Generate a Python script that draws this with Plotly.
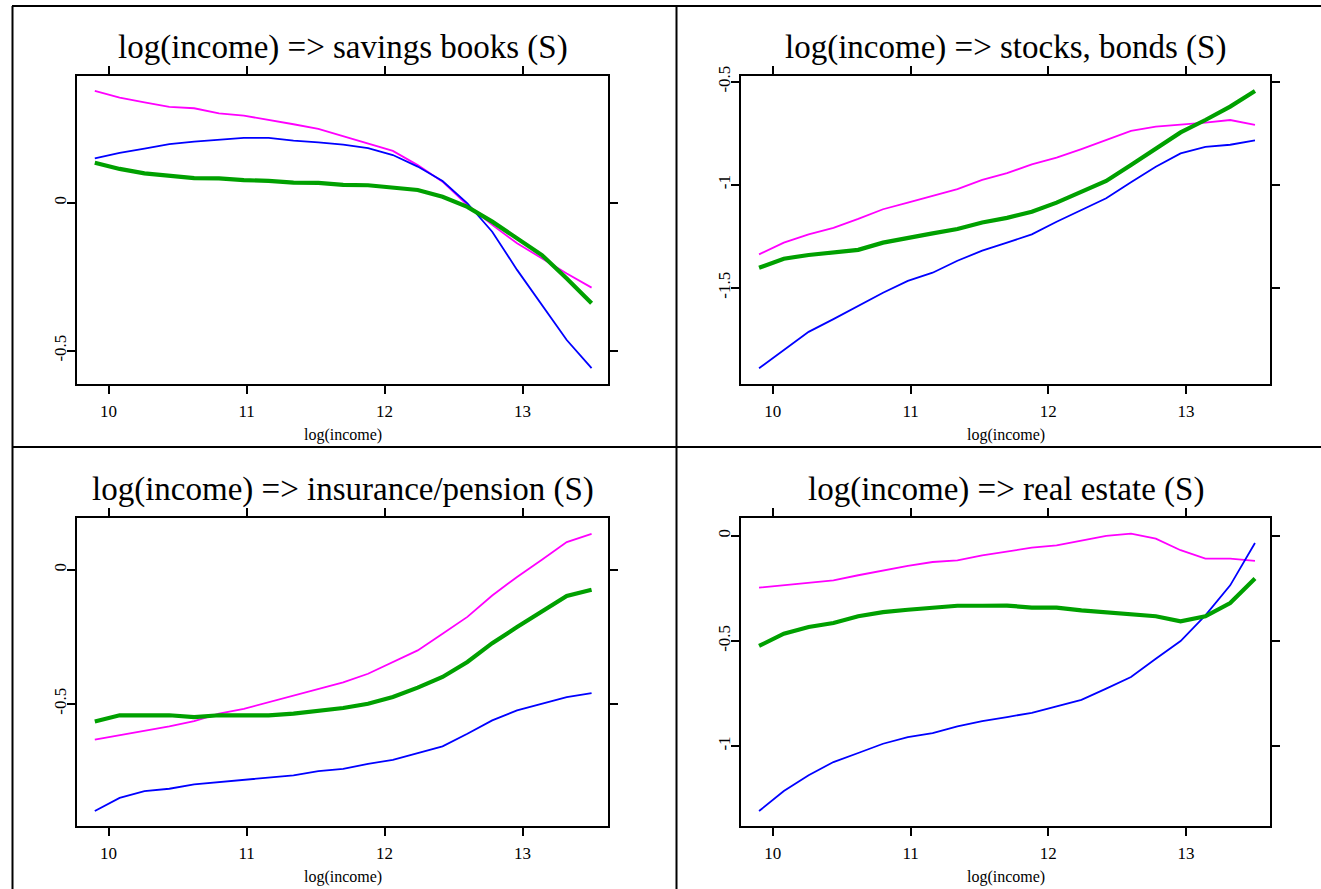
import plotly.graph_objects as go

W, H = 1321, 889

# x grid: log(income)
log_income = [9.90, 10.08, 10.26, 10.44, 10.62, 10.80, 10.98, 11.16, 11.34, 11.52, 11.70,
              11.88, 12.06, 12.24, 12.42, 12.60, 12.78, 12.96, 13.14, 13.32, 13.50]

titles = ["log(income) => savings books (S)", "log(income) => stocks, bonds (S)",
          "log(income) => insurance/pension (S)", "log(income) => real estate (S)"]

# savings books
sav_magenta = [0.378, 0.355, 0.339, 0.324, 0.319, 0.302, 0.294, 0.280, 0.265, 0.249, 0.225,
               0.201, 0.175, 0.127, 0.071, -0.008, -0.075, -0.137, -0.188, -0.239, -0.287]
sav_blue = [0.150, 0.168, 0.183, 0.198, 0.206, 0.212, 0.219, 0.219, 0.210, 0.204, 0.196,
            0.184, 0.161, 0.122, 0.073, -0.002, -0.098, -0.227, -0.346, -0.464, -0.559]
sav_green = [0.135, 0.114, 0.099, 0.091, 0.083, 0.082, 0.076, 0.074, 0.068, 0.067, 0.060,
             0.059, 0.052, 0.043, 0.020, -0.014, -0.064, -0.120, -0.177, -0.256, -0.340]

# stocks, bonds
stk_magenta = [-1.338, -1.281, -1.241, -1.209, -1.166, -1.119, -1.087, -1.055, -1.021, -0.977, -0.944,
               -0.901, -0.869, -0.827, -0.783, -0.739, -0.718, -0.709, -0.699, -0.686, -0.710]
stk_blue = [-1.891, -1.802, -1.714, -1.652, -1.589, -1.524, -1.467, -1.427, -1.369, -1.320, -1.281,
            -1.241, -1.180, -1.123, -1.066, -0.988, -0.913, -0.848, -0.816, -0.806, -0.785]
stk_green = [-1.403, -1.359, -1.341, -1.330, -1.316, -1.281, -1.257, -1.236, -1.215, -1.183, -1.161,
             -1.131, -1.087, -1.034, -0.982, -0.904, -0.823, -0.746, -0.686, -0.621, -0.545]

# insurance/pension
ins_magenta = [-0.634, -0.618, -0.602, -0.584, -0.565, -0.537, -0.519, -0.494, -0.469, -0.444, -0.420,
               -0.388, -0.344, -0.301, -0.239, -0.176, -0.096, -0.027, 0.037, 0.103, 0.134]
ins_blue = [-0.900, -0.851, -0.826, -0.817, -0.801, -0.792, -0.785, -0.776, -0.767, -0.751, -0.743,
            -0.724, -0.709, -0.684, -0.659, -0.612, -0.562, -0.525, -0.500, -0.475, -0.460]
ins_green = [-0.566, -0.543, -0.543, -0.543, -0.550, -0.543, -0.543, -0.543, -0.537, -0.528, -0.516,
             -0.500, -0.475, -0.440, -0.400, -0.344, -0.274, -0.214, -0.155, -0.098, -0.075]

# real estate
re_magenta = [-0.247, -0.236, -0.225, -0.212, -0.188, -0.165, -0.143, -0.125, -0.117, -0.093, -0.075,
              -0.057, -0.046, -0.022, -0.001, 0.010, -0.014, -0.069, -0.109, -0.109, -0.120]
re_blue = [-1.309, -1.214, -1.139, -1.076, -1.033, -0.989, -0.957, -0.938, -0.906, -0.881, -0.862,
           -0.842, -0.811, -0.780, -0.727, -0.672, -0.585, -0.501, -0.379, -0.236, -0.035]
re_green = [-0.524, -0.466, -0.434, -0.415, -0.383, -0.363, -0.352, -0.342, -0.333, -0.333, -0.332,
            -0.342, -0.342, -0.355, -0.363, -0.374, -0.383, -0.407, -0.383, -0.320, -0.204]

panels = [(sav_magenta, sav_blue, sav_green),
          (stk_magenta, stk_blue, stk_green),
          (ins_magenta, ins_blue, ins_green),
          (re_magenta, re_blue, re_green)]

x_ticks = [10, 11, 12, 13]
y_ticks = [[-0.5, 0], [-1.5, -1, -0.5], [-0.5, 0], [-1, -0.5, 0]]
y_ticklabels = [["-0.5", "0"], ["-1.5", "-1", "-0.5"], ["-0.5", "0"], ["-1", "-0.5", "0"]]
x_ranges = [[9.771, 13.619], [9.769, 13.609], [9.771, 13.619], [9.769, 13.609]]
y_ranges = [[-0.6125, 0.429], [-1.967, -0.471], [-0.956, 0.194], [-1.380, 0.0856]]

# plot-area boxes in pixels (left, right, top, bottom)
boxes = [(77, 608, 75.7, 384), (741, 1270, 75.7, 384),
         (77, 608, 517.7, 826), (741, 1270, 517.7, 826)]

FONT = "Liberation Serif"
fig = go.Figure()

for k, (mag, blu, grn) in enumerate(panels):
    n = "" if k == 0 else str(k + 1)
    xa, ya = "x" + n, "y" + n
    fig.add_trace(go.Scatter(x=log_income, y=mag, mode="lines", xaxis=xa, yaxis=ya,
                             line=dict(color="#FF00FF", width=1.8), showlegend=False))
    fig.add_trace(go.Scatter(x=log_income, y=blu, mode="lines", xaxis=xa, yaxis=ya,
                             line=dict(color="#0000FF", width=1.8), showlegend=False))
    fig.add_trace(go.Scatter(x=log_income, y=grn, mode="lines", xaxis=xa, yaxis=ya,
                             line=dict(color="#00A000", width=4.2), showlegend=False))
    l, r, t, b = boxes[k]
    common = dict(showgrid=False, zeroline=False, showline=True, mirror="ticks",
                  linecolor="black", linewidth=2, ticks="outside", ticklen=8,
                  tickwidth=1.5, tickcolor="black", automargin=False,
                  tickfont=dict(family=FONT, size=17, color="black"))
    fig.layout["xaxis" + n] = dict(domain=[l / W, r / W], range=x_ranges[k],
                                   anchor=ya, tickvals=x_ticks, ticklabelstandoff=3,
                                   ticktext=[str(v) for v in x_ticks], **common)
    fig.layout["yaxis" + n] = dict(domain=[1 - b / H, 1 - t / H], range=y_ranges[k],
                                   anchor=xa, tickvals=y_ticks[k], ticklabelstandoff=-6,
                                   ticktext=y_ticklabels[k], tickangle=-90, **common)
    cx = (l + r) / 2
    fig.add_annotation(x=cx / W, y=1 - (t - 28) / H, xref="paper", yref="paper",
                       text=titles[k], showarrow=False, xanchor="center", yanchor="middle",
                       font=dict(family=FONT, size=33, color="black"))
    fig.add_annotation(x=cx / W, y=1 - (b + 51) / H, xref="paper", yref="paper",
                       text="log(income)", showarrow=False, xanchor="center", yanchor="middle",
                       font=dict(family=FONT, size=16, color="black"))

# cell frame lines
frame = [(12, 6, W, 6), (12.5, 6, 12.5, H), (676.5, 6, 676.5, H), (12, 447, W, 447)]
for x0, y0, x1, y1 in frame:
    fig.add_shape(type="line", xref="paper", yref="paper",
                  x0=x0 / W, y0=1 - y0 / H, x1=x1 / W, y1=1 - y1 / H,
                  line=dict(color="black", width=2))

fig.update_layout(width=W, height=H,
                  margin=dict(l=0, r=0, t=0, b=0, pad=0, autoexpand=False),
                  paper_bgcolor="white", plot_bgcolor="white")

page_fix = ("document.body.style.margin='0';document.body.style.overflow='hidden';"
            "var d=document.getElementById('{plot_id}');"
            "d.style.position='absolute';d.style.left='0px';d.style.top='0px';")

fig.write_html("out.html", post_script=page_fix, config={"displayModeBar": False})
